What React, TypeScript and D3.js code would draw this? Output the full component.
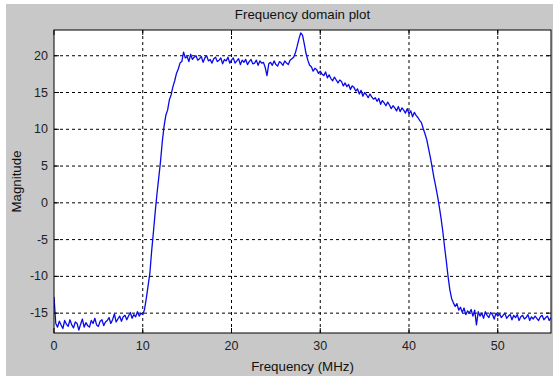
import React from "react";
import * as d3 from "d3";

// Spectrum samples, 0.2 MHz apart starting at 0 MHz
const freqStep = 0.2;
const magnitude: number[] = [
  // 0 – 1.8
  -12.8, -16.4, -16.9, -16.1, -16.6, -17.1, -16.0, -16.5, -16.8, -15.9,
  // 2 – 3.8
  -16.6, -17.0, -16.2, -16.4, -17.3, -16.5, -15.8, -16.9, -16.3, -16.7,
  // 4 – 5.8
  -16.9, -16.0, -16.4, -15.7, -16.6, -16.8, -16.1, -15.9, -16.7, -16.2,
  // 6 – 7.8
  -16.0, -15.6, -16.4, -15.9, -15.1, -16.2, -15.8, -15.4, -16.1, -15.5,
  // 8 – 9.8
  -15.3, -15.9, -15.4, -14.9, -15.7, -15.2, -15.5, -14.8, -15.4, -15.0,
  // 10 – 11.8
  -15.2, -14.5, -13.0, -11.3, -9.6, -6.6, -4.0, -1.3, 1.2, 3.4,
  // 12 – 13.8
  5.6, 8.3, 10.4, 11.9, 12.6, 14.0, 14.7, 15.8, 16.6, 17.6,
  // 14 – 15.8
  18.2, 19.0, 19.2, 20.5, 19.7, 19.9, 19.2, 20.2, 19.5, 19.8,
  // 16 – 17.8
  20.0, 19.4, 19.6, 19.9, 19.1, 19.7, 20.0, 19.3, 19.5, 19.0,
  // 18 – 19.8
  19.6, 19.8, 19.2, 19.4, 19.7, 18.9, 19.5, 19.3, 19.8, 19.0,
  // 20 – 21.8
  19.4, 19.7, 19.0, 19.3, 19.6, 18.8, 19.4, 19.1, 19.5, 18.8,
  // 22 – 23.8
  19.2, 19.5, 18.9, 19.0, 19.4, 18.7, 19.3, 19.0, 19.1, 18.4,
  // 24 – 25.8
  17.3, 18.9, 19.1, 18.7, 19.3, 18.8, 18.6, 19.2, 19.0, 18.7,
  // 26 – 27.8
  19.3, 19.0, 18.8, 19.4, 19.6, 19.8, 20.4, 21.3, 22.3, 23.1,
  // 28 – 29.8
  22.8, 21.6, 20.3, 19.4, 18.7, 18.5, 17.9, 18.3, 18.1, 17.6,
  // 30 – 31.8
  17.9, 17.5, 17.3, 17.8, 17.0, 17.4, 16.9, 16.6, 17.1, 16.7,
  // 32 – 33.8
  16.3, 16.7, 16.5, 15.9, 16.3, 15.8, 16.1, 15.4, 15.9, 15.7,
  // 34 – 35.8
  15.2, 15.5, 14.8, 15.3, 14.5, 15.0, 14.7, 14.3, 14.8, 14.4,
  // 36 – 37.8
  14.1, 14.3, 13.8, 14.2, 13.4, 13.9, 13.6, 13.2, 13.7, 13.3,
  // 38 – 39.8
  12.8, 13.2, 12.9, 12.5, 13.1, 12.4, 12.9, 12.6, 12.2, 12.8,
  // 40 – 41.8
  12.1, 12.5, 11.7, 12.3, 11.9, 11.6, 11.2, 10.9, 10.1, 9.4,
  // 42 – 43.8
  8.6, 7.4, 6.2, 4.9, 3.5, 2.3, 1.0, -0.4, -2.0, -3.8,
  // 44 – 45.8
  -5.9, -7.9, -10.0, -11.8, -13.0, -13.6, -14.1, -13.7, -14.6, -14.2,
  // 46 – 47.8
  -14.9, -14.3, -15.2, -14.7, -15.0, -14.5, -15.4, -14.6, -16.6, -14.8,
  // 48 – 49.8
  -15.4, -15.0, -15.7, -14.8, -15.3, -15.6, -14.9, -15.2, -15.8, -15.0,
  // 50 – 51.8
  -15.4, -15.1, -15.6, -15.3, -15.0, -15.7, -15.4, -15.2, -15.9, -15.3,
  // 52 – 53.8
  -15.6, -15.2, -16.0, -15.5, -15.3, -15.8, -15.6, -15.2, -16.0, -15.5,
  // 54 – 56
  -15.8, -15.4, -15.7, -16.0, -15.5, -15.3, -15.9, -15.6, -15.4, -16.0, -15.6,
];

const xTicks = [0, 10, 20, 30, 40, 50];
const yTicks = [-15, -10, -5, 0, 5, 10, 15, 20];
const titleText = "Frequency domain plot";
const xLabel = "Frequency (MHz)";
const yLabel = "Magnitude";

const W = 553;
const H = 377;
const plot = { left: 54, right: 551, top: 30, bottom: 333 };
const font = "'Liberation Sans', Arial, sans-serif";

export default function App() {
  const x = d3.scaleLinear().domain([0, 56]).range([plot.left, plot.right]);
  const y = d3.scaleLinear().domain([-17.7, 23.5]).range([plot.bottom, plot.top]);

  const points: [number, number][] = magnitude.map((v, i) => [i * freqStep, v]);
  const line = d3
    .line<[number, number]>()
    .x((d) => x(d[0]))
    .y((d) => y(d[1]));

  const pw = plot.right - plot.left;
  const ph = plot.bottom - plot.top;
  const tickLen = 5;

  return (
    <svg
      width={W}
      height={H}
      style={{ position: "absolute", left: 0, top: 0, background: "#fff" }}
      fontFamily={font}
    >
      <rect x={6} y={4} width={W - 6} height={H - 5} fill="#c8c8c8" />
      <rect x={plot.left} y={plot.top} width={pw} height={ph} fill="#fff" />

      <defs>
        <clipPath id="plotClip">
          <rect x={plot.left} y={plot.top} width={pw} height={ph} />
        </clipPath>
      </defs>

      {/* dotted grid */}
      {xTicks
        .filter((t) => t > 0)
        .map((t) => (
          <line
            key={`gx${t}`}
            x1={x(t)}
            x2={x(t)}
            y1={plot.top}
            y2={plot.bottom}
            stroke="#000"
            strokeWidth={1}
            strokeDasharray="3,3"
          />
        ))}
      {yTicks.map((t) => (
        <line
          key={`gy${t}`}
          x1={plot.left}
          x2={plot.right}
          y1={y(t)}
          y2={y(t)}
          stroke="#000"
          strokeWidth={1}
          strokeDasharray="3,3"
        />
      ))}

      <path
        d={line(points) ?? ""}
        fill="none"
        stroke="#0a0ae8"
        strokeWidth={1.3}
        strokeLinejoin="round"
        clipPath="url(#plotClip)"
      />

      {/* axes frame and tick marks */}
      <rect
        x={plot.left}
        y={plot.top}
        width={pw}
        height={ph}
        fill="none"
        stroke="#000"
        strokeWidth={1}
      />
      {xTicks.map((t) => (
        <g key={`tx${t}`}>
          <line x1={x(t)} x2={x(t)} y1={plot.bottom} y2={plot.bottom - tickLen} stroke="#000" />
          <line x1={x(t)} x2={x(t)} y1={plot.top} y2={plot.top + tickLen} stroke="#000" />
          <text
            x={x(t)}
            y={346}
            fontSize={12.5}
            textAnchor="middle"
            dominantBaseline="central"
            fill="#222"
          >
            {t}
          </text>
        </g>
      ))}
      {yTicks.map((t) => (
        <g key={`ty${t}`}>
          <line x1={plot.left} x2={plot.left + tickLen} y1={y(t)} y2={y(t)} stroke="#000" />
          <line x1={plot.right} x2={plot.right - tickLen} y1={y(t)} y2={y(t)} stroke="#000" />
          <text
            x={plot.left - 6}
            y={y(t)}
            fontSize={12.5}
            textAnchor="end"
            dominantBaseline="central"
            fill="#222"
          >
            {t}
          </text>
        </g>
      ))}

      <text
        x={(plot.left + plot.right) / 2}
        y={19}
        fontSize={13.3}
        textAnchor="middle"
        fill="#111"
      >
        {titleText}
      </text>
      <text
        x={(plot.left + plot.right) / 2}
        y={371}
        fontSize={13.3}
        textAnchor="middle"
        fill="#111"
      >
        {xLabel}
      </text>
      <text
        transform={`translate(21, ${(plot.top + plot.bottom) / 2}) rotate(-90)`}
        fontSize={13.3}
        textAnchor="middle"
        fill="#111"
      >
        {yLabel}
      </text>
    </svg>
  );
}
